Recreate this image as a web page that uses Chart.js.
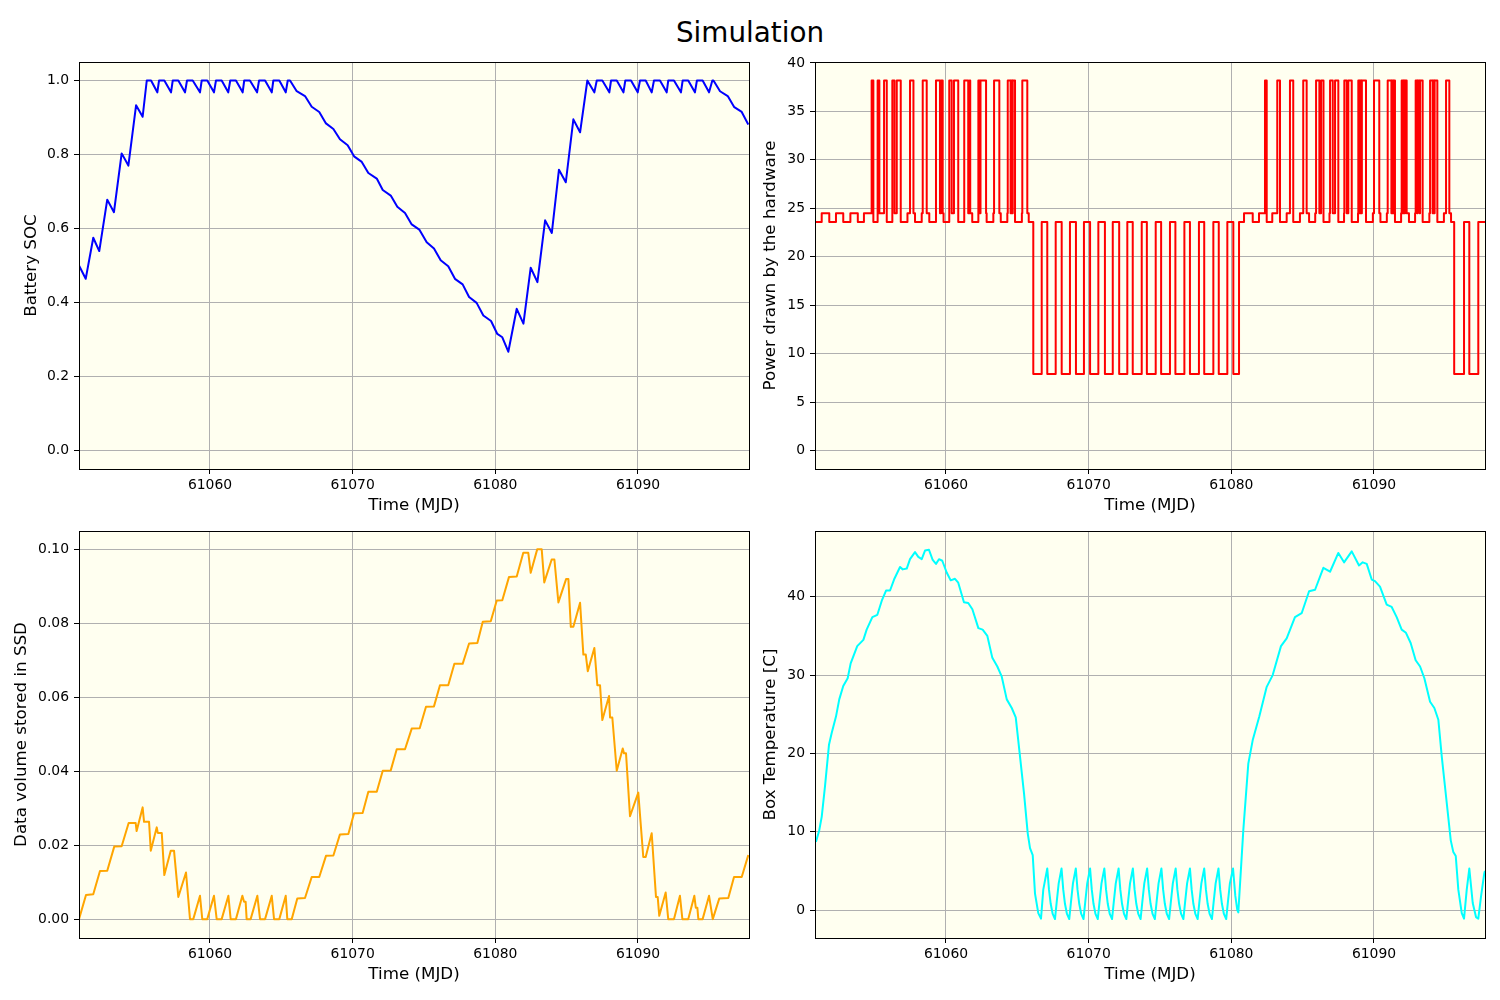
<!DOCTYPE html>
<html>
<head>
<meta charset="utf-8">
<script src="https://cdn.jsdelivr.net/npm/chart.js@4.4.1/dist/chart.umd.min.js"></script>
<style>
  body { margin: 0; background: #fff; width: 1500px; height: 1000px; position: relative; overflow: hidden; font-family: "DejaVu Sans"; }
  #title { position: absolute; left: 0; top: 16px; width: 1500px; text-align: center; font-size: 27.8px; color: #000; }
  canvas { position: absolute; }
</style>
</head>
<body>
<div id="title">Simulation</div>
<canvas id="soc" width="760" height="525" style="left:0;top:0"></canvas>
<canvas id="power" width="750" height="525" style="left:750px;top:0"></canvas>
<canvas id="ssd" width="760" height="500" style="left:0;top:500px"></canvas>
<canvas id="temp" width="750" height="500" style="left:750px;top:500px"></canvas>
<script>
// time axis (MJD) and tick values
var xMin = 61050.82, xMax = 61097.78;
var xTicks = [61060, 61070, 61080, 61090];
var socTicks = [0, 0.2, 0.4, 0.6, 0.8, 1.0];
var powerTicks = [0, 5, 10, 15, 20, 25, 30, 35, 40];
var ssdTicks = [0, 0.02, 0.04, 0.06, 0.08, 0.10];
var tempTicks = [0, 10, 20, 30, 40];

// [time, battery SOC]
var socData = [
  [61050.82,0.500],[61051.29,0.464],[61051.82,0.575],[61052.24,0.539],[61052.80,0.678],[61053.27,0.644],
  [61053.81,0.803],[61054.28,0.770],[61054.82,0.933],[61055.28,0.902],[61055.57,1.000],[61055.87,1.000],
  [61056.31,0.968],[61056.43,1.000],[61056.80,1.000],[61057.27,0.968],[61057.39,1.000],[61057.78,1.000],
  [61058.25,0.968],[61058.39,1.000],[61058.79,1.000],[61059.30,0.968],[61059.42,1.000],[61059.81,1.000],
  [61060.28,0.968],[61060.42,1.000],[61060.82,1.000],[61061.28,0.968],[61061.42,1.000],[61061.82,1.000],
  [61062.29,0.968],[61062.40,1.000],[61062.80,1.000],[61063.30,0.968],[61063.44,1.000],[61063.86,1.000],
  [61064.33,0.968],[61064.44,1.000],[61064.86,1.000],[61065.31,0.968],[61065.45,1.000],[61065.61,1.000],
  [61066.08,0.971],[61066.66,0.958],[61067.13,0.929],[61067.66,0.915],[61068.13,0.884],[61068.65,0.869],
  [61069.11,0.841],[61069.65,0.825],[61070.10,0.795],[61070.64,0.780],[61071.10,0.750],[61071.69,0.735],
  [61072.11,0.704],[61072.67,0.689],[61073.13,0.659],[61073.67,0.642],[61074.14,0.611],[61074.67,0.597],
  [61075.19,0.563],[61075.70,0.546],[61076.17,0.514],[61076.70,0.498],[61077.17,0.464],[61077.71,0.449],
  [61078.16,0.415],[61078.69,0.399],[61079.16,0.365],[61079.70,0.350],[61080.14,0.315],[61080.49,0.306],
  [61080.91,0.267],[61081.50,0.383],[61081.97,0.343],[61082.48,0.494],[61082.95,0.455],[61083.49,0.622],
  [61083.96,0.588],[61084.46,0.759],[61084.94,0.725],[61085.47,0.895],[61085.94,0.860],[61086.45,1.000],
  [61086.94,0.968],[61087.11,1.000],[61087.50,1.000],[61087.99,0.968],[61088.11,1.000],[61088.51,1.000],
  [61088.98,0.968],[61089.11,1.000],[61089.51,1.000],[61089.98,0.968],[61090.14,1.000],[61090.54,1.000],
  [61090.96,0.968],[61091.12,1.000],[61091.54,1.000],[61092.01,0.968],[61092.12,1.000],[61092.52,1.000],
  [61093.01,0.968],[61093.13,1.000],[61093.52,1.000],[61093.99,0.968],[61094.13,1.000],[61094.53,1.000],
  [61094.98,0.968],[61095.21,1.000],[61095.29,1.000],[61095.75,0.971],[61096.29,0.958],[61096.75,0.928],
  [61097.27,0.915],[61097.73,0.881]
];

// [time, power level from this time on]
var powerData = [
  [61050.82,23.6],[61051.29,24.5],[61051.82,23.6],[61052.29,24.5],[61052.80,23.6],[61053.30,24.5],
  [61053.82,23.6],[61054.25,24.5],[61054.79,38.2],[61054.91,23.6],[61055.21,38.2],[61055.33,24.5],
  [61055.66,38.2],[61055.85,23.6],[61056.24,38.2],[61056.39,24.5],[61056.55,38.2],[61056.83,23.6],
  [61057.30,24.5],[61057.48,38.2],[61057.72,24.5],[61057.83,23.6],[61058.30,24.5],[61058.37,38.2],
  [61058.65,24.5],[61058.83,23.6],[61059.30,38.2],[61059.58,24.5],[61059.65,38.2],[61059.77,24.5],
  [61059.83,23.6],[61060.23,38.2],[61060.40,24.5],[61060.56,38.2],[61060.86,23.6],[61061.28,38.2],
  [61061.56,24.5],[61061.66,38.2],[61061.70,24.5],[61061.84,23.6],[61062.27,38.2],[61062.38,24.5],
  [61062.42,38.2],[61062.81,24.5],[61062.85,23.6],[61063.32,24.5],[61063.37,38.2],[61063.74,24.5],
  [61063.84,23.6],[61064.30,24.5],[61064.33,38.2],[61064.53,24.5],[61064.56,38.2],[61064.65,24.5],
  [61064.68,38.2],[61064.84,23.6],[61065.32,24.5],[61065.35,38.2],[61065.70,24.5],[61065.80,23.6],
  [61066.12,7.9],[61066.71,23.6],[61067.10,7.9],[61067.69,23.6],[61068.11,7.9],[61068.69,23.6],
  [61069.11,7.9],[61069.67,23.6],[61070.10,7.9],[61070.68,23.6],[61071.14,7.9],[61071.69,23.6],
  [61072.14,7.9],[61072.71,23.6],[61073.09,7.9],[61073.72,23.6],[61074.08,7.9],[61074.70,23.6],
  [61075.08,7.9],[61075.70,23.6],[61076.08,7.9],[61076.71,23.6],[61077.10,7.9],[61077.73,23.6],
  [61078.10,7.9],[61078.74,23.6],[61079.12,7.9],[61079.72,23.6],[61080.14,7.9],[61080.54,23.6],
  [61080.89,24.5],[61081.50,23.6],[61081.94,24.5],[61082.36,38.2],[61082.48,23.6],[61082.87,24.5],
  [61083.22,38.2],[61083.41,23.6],[61083.88,24.5],[61084.11,38.2],[61084.34,23.6],[61084.81,24.5],
  [61085.04,38.2],[61085.28,24.5],[61085.45,23.6],[61085.88,24.5],[61085.94,38.2],[61086.17,24.5],
  [61086.29,38.2],[61086.46,23.6],[61086.88,24.5],[61086.92,38.2],[61087.11,24.5],[61087.27,38.2],
  [61087.50,23.6],[61087.90,24.5],[61087.92,38.2],[61088.09,24.5],[61088.20,38.2],[61088.44,23.6],
  [61088.88,24.5],[61088.90,38.2],[61089.00,24.5],[61089.03,38.2],[61089.12,24.5],[61089.15,38.2],
  [61089.44,23.6],[61089.92,24.5],[61090.00,38.2],[61090.37,24.5],[61090.45,23.6],[61090.90,24.5],
  [61090.96,38.2],[61091.22,24.5],[61091.25,38.2],[61091.33,24.5],[61091.36,38.2],[61091.47,23.6],
  [61091.90,24.5],[61091.94,38.2],[61092.04,24.5],[61092.07,38.2],[61092.15,24.5],[61092.18,38.2],
  [61092.29,24.5],[61092.45,23.6],[61092.88,24.5],[61092.92,38.2],[61093.03,24.5],[61093.06,38.2],
  [61093.20,24.5],[61093.23,38.2],[61093.41,23.6],[61093.88,24.5],[61093.93,38.2],[61094.11,24.5],
  [61094.14,38.2],[61094.22,24.5],[61094.25,38.2],[61094.44,23.6],[61094.90,24.5],[61095.05,38.2],
  [61095.28,24.5],[61095.40,23.6],[61095.62,7.9],[61096.31,23.6],[61096.68,7.9],[61097.31,23.6],
  [61097.78,23.6]
];

// [time, data volume in SSD]
var ssdData = [
  [61050.82,0.0000],[61051.31,0.0065],[61051.82,0.0067],[61052.29,0.0130],[61052.80,0.0131],[61053.29,0.0196],
  [61053.81,0.0197],[61054.30,0.0260],[61054.79,0.0260],[61054.86,0.0238],[61055.28,0.0302],[61055.38,0.0263],
  [61055.73,0.0263],[61055.85,0.0185],[61056.27,0.0248],[61056.34,0.0233],[61056.62,0.0233],[61056.80,0.0119],
  [61057.25,0.0185],[61057.48,0.0185],[61057.78,0.0060],[61058.32,0.0126],[61058.60,0.0000],[61058.83,0.0000],
  [61059.30,0.0063],[61059.46,0.0000],[61059.81,0.0000],[61060.28,0.0063],[61060.47,0.0000],[61060.82,0.0000],
  [61061.29,0.0063],[61061.45,0.0000],[61061.82,0.0000],[61062.27,0.0063],[61062.39,0.0047],[61062.50,0.0047],
  [61062.57,0.0000],[61062.85,0.0000],[61063.32,0.0063],[61063.51,0.0000],[61063.86,0.0000],[61064.33,0.0063],
  [61064.49,0.0000],[61064.86,0.0000],[61065.31,0.0063],[61065.42,0.0000],[61065.73,0.0000],[61066.12,0.0056],
  [61066.66,0.0057],[61067.13,0.0114],[61067.66,0.0114],[61068.13,0.0171],[61068.65,0.0172],[61069.11,0.0229],
  [61069.70,0.0230],[61070.10,0.0286],[61070.70,0.0287],[61071.10,0.0344],[61071.69,0.0344],[61072.11,0.0401],
  [61072.67,0.0402],[61073.09,0.0459],[61073.67,0.0459],[61074.14,0.0515],[61074.70,0.0516],[61075.14,0.0574],
  [61075.70,0.0575],[61076.12,0.0632],[61076.70,0.0632],[61077.13,0.0690],[61077.71,0.0690],[61078.16,0.0745],
  [61078.74,0.0746],[61079.12,0.0804],[61079.68,0.0805],[61080.10,0.0861],[61080.49,0.0862],[61080.96,0.0925],
  [61081.50,0.0926],[61081.96,0.0990],[61082.31,0.0990],[61082.48,0.0936],[61082.94,0.1000],[61083.25,0.1000],
  [61083.43,0.0910],[61083.95,0.0972],[61084.14,0.0972],[61084.42,0.0856],[61084.96,0.0919],[61085.12,0.0919],
  [61085.29,0.0790],[61085.47,0.0790],[61085.94,0.0855],[61086.17,0.0715],[61086.34,0.0715],[61086.48,0.0670],
  [61086.94,0.0733],[61087.15,0.0632],[61087.34,0.0632],[61087.50,0.0538],[61087.97,0.0603],[61088.04,0.0545],
  [61088.20,0.0545],[61088.51,0.0401],[61088.93,0.0461],[61089.02,0.0448],[61089.16,0.0448],[61089.44,0.0278],
  [61090.02,0.0342],[61090.37,0.0168],[61090.54,0.0168],[61090.96,0.0232],[61091.26,0.0060],[61091.38,0.0060],
  [61091.49,0.0009],[61091.94,0.0072],[61092.12,0.0000],[61092.52,0.0000],[61092.94,0.0063],[61093.11,0.0000],
  [61093.52,0.0000],[61093.95,0.0063],[61094.05,0.0031],[61094.16,0.0031],[61094.23,0.0000],[61094.53,0.0000],
  [61094.98,0.0063],[61095.24,0.0000],[61095.70,0.0056],[61096.33,0.0057],[61096.73,0.0114],[61097.27,0.0114],
  [61097.73,0.0173]
];

// [time, box temperature in C]
var tempData = [
  [61050.82,9.2],[61050.90,8.8],[61051.12,10.2],[61051.29,11.9],[61051.52,15.8],[61051.80,21.1],
  [61051.99,22.6],[61052.29,24.7],[61052.52,26.9],[61052.80,28.6],[61053.11,29.6],[61053.32,31.5],
  [61053.78,33.7],[61054.21,34.5],[61054.44,35.8],[61054.84,37.4],[61055.19,37.7],[61055.50,39.5],
  [61055.80,40.8],[61056.08,40.8],[61056.36,42.2],[61056.78,43.8],[61056.97,43.5],[61057.25,43.6],
  [61057.48,44.8],[61057.83,45.7],[61058.06,45.1],[61058.30,44.8],[61058.53,45.9],[61058.81,46.0],
  [61059.07,44.7],[61059.30,44.2],[61059.51,44.8],[61059.74,44.6],[61060.05,43.1],[61060.33,42.1],
  [61060.63,42.3],[61060.86,41.8],[61061.26,39.3],[61061.56,39.2],[61061.85,38.4],[61062.27,36.0],
  [61062.57,35.8],[61062.90,35.0],[61063.25,32.2],[61063.60,31.1],[61063.91,29.8],[61064.26,26.9],
  [61064.61,25.8],[61064.89,24.6],[61065.19,19.6],[61065.47,14.9],[61065.73,9.8],[61065.89,7.9],
  [61066.08,7.0],[61066.24,2.1],[61066.47,-0.4],[61066.66,-1.1],[61066.82,2.6],[61067.10,5.3],
  [61067.22,2.6],[61067.34,0.8],[61067.48,-0.5],[61067.64,-1.15],[61067.76,1.0],[61067.90,3.4],[61068.10,5.3],
  [61068.22,2.6],[61068.34,0.8],[61068.48,-0.5],[61068.64,-1.15],[61068.76,1.0],[61068.90,3.4],[61069.10,5.3],
  [61069.22,2.6],[61069.34,0.8],[61069.48,-0.5],[61069.64,-1.15],[61069.76,1.0],[61069.90,3.4],[61070.10,5.3],
  [61070.22,2.6],[61070.34,0.8],[61070.48,-0.5],[61070.64,-1.15],[61070.76,1.0],[61070.90,3.4],[61071.10,5.3],
  [61071.22,2.6],[61071.34,0.8],[61071.48,-0.5],[61071.64,-1.15],[61071.76,1.0],[61071.90,3.4],[61072.10,5.3],
  [61072.22,2.6],[61072.34,0.8],[61072.48,-0.5],[61072.64,-1.15],[61072.76,1.0],[61072.90,3.4],[61073.10,5.3],
  [61073.22,2.6],[61073.34,0.8],[61073.48,-0.5],[61073.64,-1.15],[61073.76,1.0],[61073.90,3.4],[61074.10,5.3],
  [61074.22,2.6],[61074.34,0.8],[61074.48,-0.5],[61074.64,-1.15],[61074.76,1.0],[61074.90,3.4],[61075.10,5.3],
  [61075.22,2.6],[61075.34,0.8],[61075.48,-0.5],[61075.64,-1.15],[61075.76,1.0],[61075.90,3.4],[61076.10,5.3],
  [61076.22,2.6],[61076.34,0.8],[61076.48,-0.5],[61076.64,-1.15],[61076.76,1.0],[61076.90,3.4],[61077.10,5.3],
  [61077.22,2.6],[61077.34,0.8],[61077.48,-0.5],[61077.64,-1.15],[61077.76,1.0],[61077.90,3.4],[61078.10,5.3],
  [61078.22,2.6],[61078.34,0.8],[61078.48,-0.5],[61078.64,-1.15],[61078.76,1.0],[61078.90,3.4],[61079.10,5.3],
  [61079.22,2.6],[61079.34,0.8],[61079.48,-0.5],[61079.64,-1.15],[61079.76,1.0],[61079.90,3.4],[61080.12,5.3],
  [61080.28,1.8],[61080.42,0.0],[61080.49,-0.3],[61080.84,10.2],[61081.19,18.7],[61081.50,21.7],
  [61081.96,24.7],[61082.48,28.5],[61082.90,30.0],[61083.48,33.7],[61083.88,34.7],[61084.46,37.4],
  [61084.93,37.9],[61085.45,40.7],[61085.87,40.9],[61086.45,43.7],[61086.92,43.2],[61087.50,45.6],
  [61087.90,44.4],[61088.44,45.8],[61088.95,44.0],[61089.21,44.4],[61089.49,44.2],[61089.84,42.2],
  [61090.07,42.0],[61090.42,41.3],[61090.89,39.0],[61091.24,38.7],[61091.59,37.4],[61091.94,35.8],
  [61092.24,35.4],[61092.57,34.1],[61092.92,31.9],[61093.23,31.1],[61093.53,29.6],[61093.93,26.6],
  [61094.23,25.8],[61094.51,24.3],[61094.75,19.6],[61095.05,14.5],[61095.38,8.9],[61095.56,7.4],
  [61095.73,6.9],[61095.91,2.6],[61096.15,-0.4],[61096.31,-1.1],[61096.50,2.6],[61096.68,5.3],
  [61096.92,0.9],[61097.15,-0.9],[61097.31,-1.1],[61097.50,1.7],[61097.73,4.7],[61097.78,5.0]
];

var font = 'DejaVu Sans';

// ivory plot area and black frame, like the matplotlib axes
var frame = {
  id: 'frame',
  beforeDraw: function(chart) {
    var a = chart.chartArea, c = chart.ctx;
    c.save();
    c.fillStyle = '#fffff0';
    c.fillRect(a.left, a.top, a.right - a.left, a.bottom - a.top);
    c.restore();
  },
  afterDraw: function(chart) {
    var a = chart.chartArea, c = chart.ctx;
    c.save();
    c.strokeStyle = '#000';
    c.lineWidth = 1;
    c.strokeRect(a.left + 0.5, a.top + 0.5, a.right - a.left, a.bottom - a.top);
    c.restore();
  }
};

function gridOpts() {
  return { color: '#b0b0b0', lineWidth: 1, tickColor: '#000', tickWidth: 1, tickLength: 5 };
}

function plot(id, o) {
  return new Chart(document.getElementById(id).getContext('2d'), {
    type: 'line',
    data: {
      datasets: [{
        data: o.data.map(function(p) { return { x: p[0], y: p[1] }; }),
        borderColor: o.color,
        borderWidth: 2,
        borderJoinStyle: 'round',
        pointRadius: 0,
        fill: false,
        tension: 0,
        stepped: o.stepped || false
      }]
    },
    options: {
      responsive: false,
      animation: false,
      devicePixelRatio: 1,
      layout: { padding: o.pad },
      plugins: { legend: { display: false }, tooltip: { enabled: false } },
      scales: {
        x: {
          type: 'linear', min: xMin, max: xMax,
          afterBuildTicks: function(s) { s.ticks = xTicks.map(function(v) { return { value: v }; }); },
          afterFit: function(s) { s.height = o.xh; },
          grid: gridOpts(),
          border: { display: false },
          ticks: { padding: 3, color: '#000', maxRotation: 0, font: { family: font, size: 13.9 },
                   callback: function(v) { return String(v); } },
          title: { display: true, text: 'Time (MJD)', color: '#000', font: { family: font, size: 16.7 },
                   padding: { top: 0, bottom: o.xtp } }
        },
        y: {
          type: 'linear', min: o.min, max: o.max,
          afterBuildTicks: function(s) { s.ticks = o.ticks.map(function(v) { return { value: v }; }); },
          afterFit: function(s) { s.width = o.yw; },
          grid: gridOpts(),
          border: { display: false },
          ticks: { padding: 5, color: '#000', font: { family: font, size: 13.9 },
                   callback: function(v) { return v.toFixed(o.dec); } },
          title: { display: true, text: o.label, color: '#000', font: { family: font, size: 16.7 },
                   padding: { top: o.ytp, bottom: 0 } }
        }
      }
    },
    plugins: [frame]
  });
}

plot('soc', { data: socData, color: '#0000ff', min: -0.05, max: 1.05, ticks: socTicks, dec: 1,
  label: 'Battery SOC', pad: { top: 62, right: 11, bottom: 0, left: 0 }, yw: 79, xh: 56, xtp: 9, ytp: 22 });
// each power point holds its level until the next point
plot('power', { data: powerData, color: '#ff0000', stepped: 'before', min: -1.9, max: 40.1, ticks: powerTicks, dec: 0,
  label: 'Power drawn by the hardware', pad: { top: 62, right: 15, bottom: 0, left: 0 }, yw: 65, xh: 56, xtp: 9, ytp: 11 });
plot('ssd', { data: ssdData, color: '#ffa500', min: -0.0051, max: 0.1049, ticks: ssdTicks, dec: 2,
  label: 'Data volume stored in SSD', pad: { top: 31, right: 11, bottom: 0, left: 0 }, yw: 79, xh: 62, xtp: 15, ytp: 12 });
plot('temp', { data: tempData, color: '#00ffff', min: -3.57, max: 48.4, ticks: tempTicks, dec: 0,
  label: 'Box Temperature [C]', pad: { top: 31, right: 15, bottom: 0, left: 0 }, yw: 65, xh: 62, xtp: 15, ytp: 11 });
</script>
</body>
</html>
